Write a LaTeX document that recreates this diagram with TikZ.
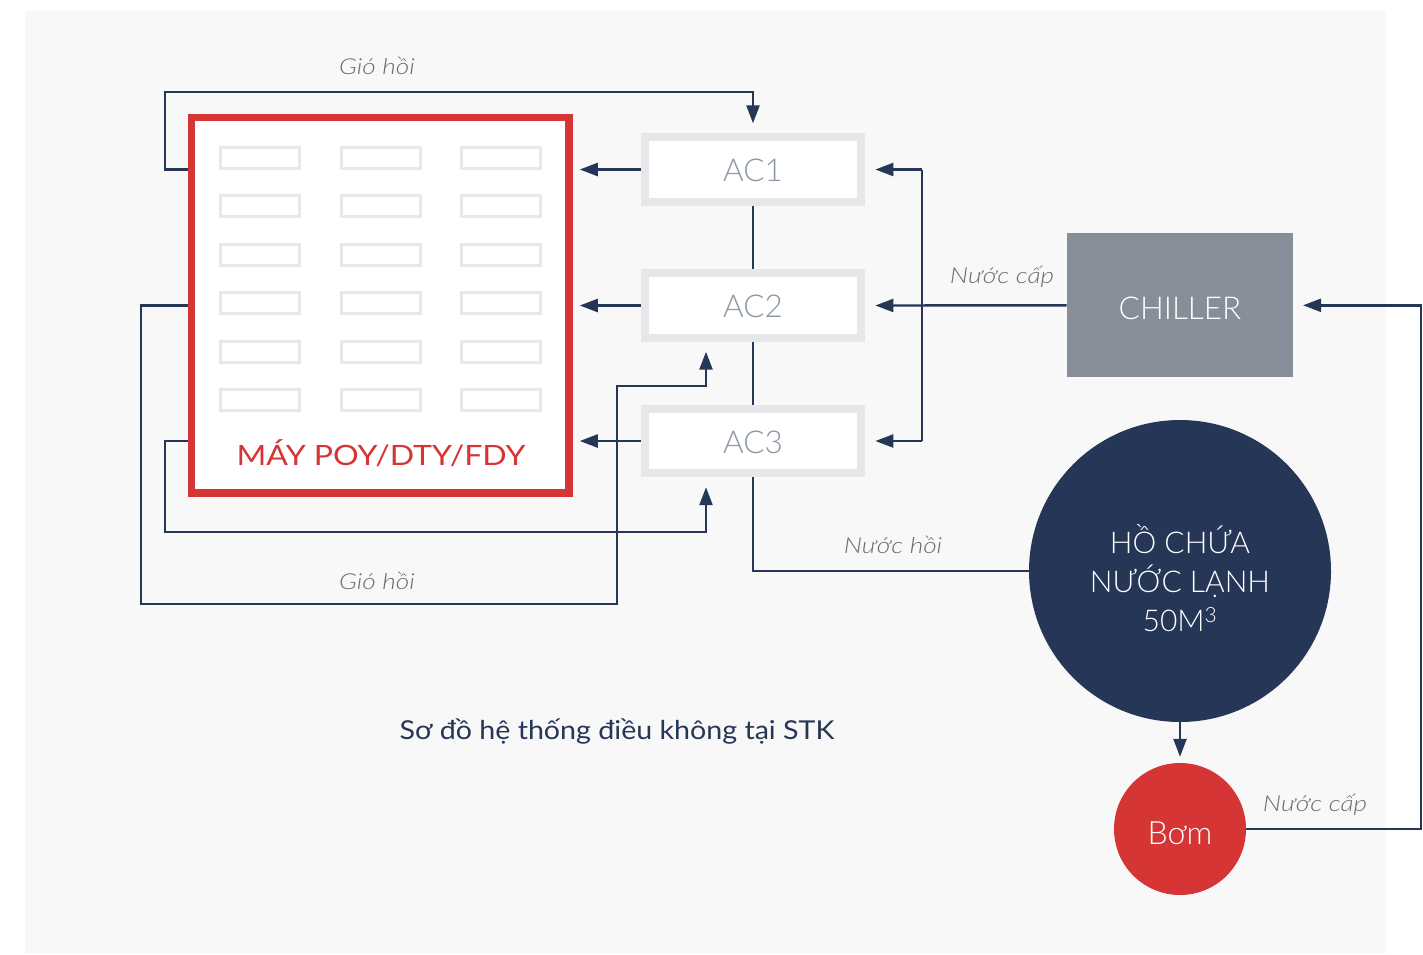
\documentclass[tikz,border=0pt]{standalone}
\usepackage{fontspec}
\setmainfont{Lato}
\newfontfamily\lightf{Lato}[UprightFont={* Light},ItalicFont={* Light Italic}]
\newfontfamily\lightwide{Lato}[UprightFont={* Light},ItalicFont={* Light Italic},FakeStretch=1.19]
\newfontfamily\regwide{Lato}[FakeStretch=1.145]
\newfontfamily\capwide{Lato}[FakeStretch=1.1]
\usetikzlibrary{arrows.meta,calc}
\definecolor{navy}{HTML}{263657}
\definecolor{rred}{HTML}{D53535}
\definecolor{panelc}{HTML}{F8F8F8}
\definecolor{boxgray}{HTML}{E6E7E9}
\definecolor{acgray}{HTML}{8A96A3}
\definecolor{chill}{HTML}{868F99}
\definecolor{lblgray}{HTML}{6B6B6B}
\definecolor{cellgray}{HTML}{E8E8E8}
\newcommand{\lowerby}[2]{\raisebox{-#1}[\height][\depth]{#2}}
\tikzset{
  flow/.style={draw=navy,line width=2.4,line join=miter},
  arr/.style={flow,-{Triangle[length=18,width=13]}},
  acbox/.style={draw=boxgray,line width=8,fill=white,minimum width=216.7,minimum height=64.4,inner sep=0,
     text=acgray,font=\lightf\fontsize{31.5}{36}\selectfont},
  cell/.style={draw=cellgray,line width=3,fill=white,minimum width=79,minimum height=21,inner sep=0},
  lbl/.style={text=lblgray,font=\lightwide\itshape\fontsize{22}{26}\selectfont,inner sep=0},
}
\begin{document}
\begin{tikzpicture}[x=1pt,y=-1pt]
\useasboundingbox (0,0) rectangle (1423,954);
\fill[white] (0,0) rectangle (1423,954);
\fill[panelc] (25,11) rectangle (1386,953);

% machine block
\node[draw=rred,line width=7.5,fill=white,minimum width=377.5,minimum height=375.5,inner sep=0] (mach) at (380.25,305.25) {};
\foreach \c/\x in {1/259.5,2/380.5,3/501}{
  \foreach \r in {0,...,5}{
    \node[cell] (cell\c\r) at (\x,{158+48.4*\r}) {};
  }
}
\node[text=rred,font=\regwide\fontsize{28}{32}\selectfont,inner sep=0] (machlbl) at (381,453.5) {MÁY POY/DTY/FDY};

% AC units
\node[acbox] (ac1) at (753,169.5) {\lowerby{1pt}{AC1}};
\node[acbox] (ac2) at (753,305.5) {\lowerby{1pt}{AC2}};
\node[acbox] (ac3) at (753,441) {\lowerby{1pt}{AC3}};

% chiller, tank, pump
\node[fill=chill,minimum width=226.6,minimum height=144,inner sep=0,text=white,
      font=\lightf\fontsize{31.5}{36}\selectfont] (chiller) at (1180,305.3) {\lowerby{3.4pt}{CHILLER}};
\node[circle,fill=navy,minimum size=302,inner sep=0,text=white,
      font=\lightf\fontsize{30}{39}\selectfont] (tank) at (1180,571)
      {\lowerby{13pt}{\begin{tabular}{@{}c@{}}HỒ CHỨA\\NƯỚC LẠNH\\50M\textsuperscript{3}\end{tabular}}};
\node[circle,fill=rred,minimum size=132,inner sep=0,text=white,
      font=\lightf\fontsize{32}{36}\selectfont] (bom) at (1180,829) {\lowerby{4pt}{Bơm}};

% helper coordinates
\coordinate (jTop) at (921.7,169.5);
\coordinate (jBot) at (921.7,441);
\coordinate (t1) at (165,92);
\coordinate (l2a) at (141,604);
\coordinate (l2b) at (617,385.7);
\coordinate (l2x) at (706,0);
\coordinate (l3a) at (165,532);
\coordinate (rr) at (1421,305.3);

% AC -> machine
\draw[arr,shorten >=7] (ac1.west) -- (ac1 -| mach.east);
\draw[arr,shorten >=7] (ac2.west) -- (ac2 -| mach.east);
\draw[arr,shorten >=7] (ac3.west) -- (ac3 -| mach.east);

% supply water
\draw[flow] (jTop) -- (jBot);
\draw[arr,shorten >=10] (jTop) -- (ac1.east);
\draw[arr,shorten >=10] (chiller.west) -- (ac2.east);
\draw[arr,shorten >=10] (jBot) -- (ac3.east);

% AC chain and return water
\draw[flow] (ac1.south) -- (ac2.north);
\draw[flow] (ac2.south) -- (ac3.north);
\draw[flow] (ac3.south) |- (tank.west);

% return air loops
\draw[arr,shorten >=10] (ac1 -| mach.west) -| (t1) -| (ac1.north);
\draw[arr,shorten >=10] (ac2 -| mach.west) -| (l2a) -| (l2b) -| (ac2.south -| l2x);
\draw[arr,shorten >=10] (ac3 -| mach.west) -| (l3a) -| (ac3.south -| l2x);

% tank -> pump -> chiller
\draw[arr,shorten >=6] (tank.south) -- (bom.north);
\draw[arr,shorten >=9.5] (bom.east) -| (rr) -- (chiller.east);

% labels
\node[lbl] (g1) at (377,66) {Gió hồi};
\node[lbl] (g2) at (377,581) {Gió hồi};
\node[lbl] (n1) at (1002,277) {Nước cấp};
\node[lbl] (n2) at (1315,805) {Nước cấp};
\node[lbl] (n3) at (893,545) {Nước hồi};
\node[text=navy,font=\capwide\fontsize{26}{30}\selectfont,inner sep=0] (cap) at (617,732) {Sơ đồ hệ thống điều không tại STK};
\end{tikzpicture}
\end{document}
